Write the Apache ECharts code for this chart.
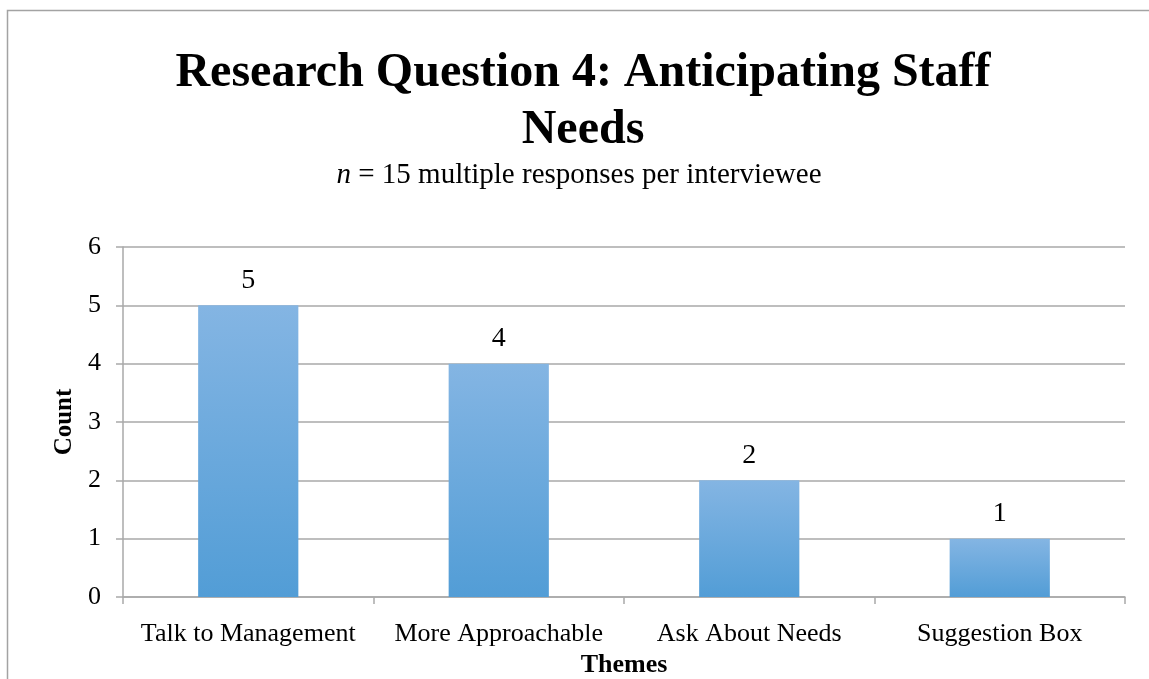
<!DOCTYPE html>
<html>
<head>
<meta charset="utf-8">
<style>
  html, body { margin: 0; padding: 0; background: #ffffff; }
  #chart { width: 1149px; height: 679px; }
</style>
<script src="https://cdn.jsdelivr.net/npm/echarts@6/dist/echarts.min.js"></script>
</head>
<body>
<div id="chart"></div>
<script>
// Interview themes and how many responses mentioned each
const themes = ['Talk to Management', 'More Approachable', 'Ask About Needs', 'Suggestion Box'];
const counts = [5, 4, 2, 1];
const yTicks = { min: 0, max: 6, interval: 1 };

const serif = '"Liberation Serif", "Times New Roman", Times, serif';
const axisGray = '#a9a9a9';

const chart = echarts.init(document.getElementById('chart'), null, { renderer: 'canvas' });

chart.setOption({
  backgroundColor: '#ffffff',
  animation: false,
  graphic: [
    {
      type: 'rect',
      z: -10,
      shape: { x: 7.5, y: 10.5, width: 1300, height: 900 },
      style: { fill: 'none', stroke: '#a3a3a3', lineWidth: 1.5 }
    }
  ],
  title: [
    {
      text: 'Research Question 4: Anticipating Staff\nNeeds',
      left: 578,
      top: 40,
      textAlign: 'center',
      textStyle: {
        fontFamily: serif,
        fontWeight: 'bold',
        fontSize: 48,
        lineHeight: 57,
        color: '#000000'
      }
    },
    {
      text: '{i|n} = 15 multiple responses per interviewee',
      left: 574,
      top: 156,
      textAlign: 'center',
      textStyle: {
        fontFamily: serif,
        fontWeight: 'normal',
        fontSize: 29,
        color: '#000000',
        rich: {
          i: { fontFamily: serif, fontStyle: 'italic', fontSize: 29, color: '#000000' }
        }
      }
    }
  ],
  grid: { left: 123, right: 24, top: 247, bottom: 82, containLabel: false, outerBoundsMode: 'none' },
  xAxis: {
    type: 'category',
    data: themes,
    name: 'Themes',
    nameLocation: 'middle',
    nameGap: 55,
    nameTextStyle: { fontFamily: serif, fontWeight: 'bold', fontSize: 26, color: '#000000' },
    axisLine: { show: true, lineStyle: { color: axisGray, width: 1.5 } },
    axisTick: { show: true, interval: 0, length: 7, lineStyle: { color: axisGray, width: 1.5 } },
    axisLabel: { interval: 0, fontFamily: serif, fontSize: 26, color: '#000000', margin: 24 }
  },
  yAxis: {
    type: 'value',
    min: yTicks.min,
    max: yTicks.max,
    interval: yTicks.interval,
    name: 'Count',
    nameLocation: 'middle',
    nameGap: 42,
    nameRotate: 90,
    nameTextStyle: { fontFamily: serif, fontWeight: 'bold', fontSize: 25, color: '#000000' },
    axisLine: { show: true, lineStyle: { color: axisGray, width: 1.5 } },
    axisTick: { show: true, length: 7, lineStyle: { color: axisGray, width: 1.5 } },
    axisLabel: { fontFamily: serif, fontSize: 26, color: '#000000', margin: 22, padding: [6, 0, 0, 0] },
    splitLine: { show: true, lineStyle: { color: axisGray, width: 1.5 } }
  },
  series: [
    {
      type: 'bar',
      data: counts,
      barWidth: '40%',
      itemStyle: {
        color: new echarts.graphic.LinearGradient(0, 0, 0, 1, [
          { offset: 0, color: '#84b5e3' },
          { offset: 1, color: '#529dd6' }
        ])
      },
      label: {
        show: true,
        position: 'top',
        distance: 11,
        fontFamily: serif,
        fontSize: 28,
        color: '#000000'
      }
    }
  ]
});
</script>
</body>
</html>
